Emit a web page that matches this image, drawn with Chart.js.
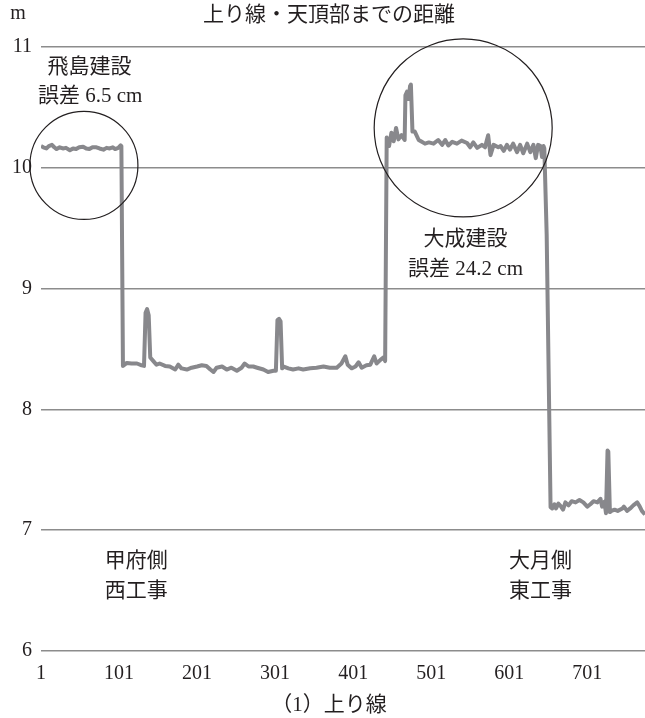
<!DOCTYPE html>
<html>
<head>
<meta charset="utf-8">
<script src="https://cdn.jsdelivr.net/npm/chart.js@4.4.0/dist/chart.umd.min.js"></script>
<style>
html, body { margin: 0; padding: 0; background: #fff; }
#wrap { width: 645px; height: 718px; }
</style>
</head>
<body>
<div id="wrap"><canvas id="distChart" width="645" height="718"></canvas></div>
<script>
const pointIndex = [
  1, 4, 8, 11, 15, 18, 21, 25, 29, 33, 38, 42, 46, 50, 55, 59, 63, 67, 72, 76, 81, 85, 89, 93, 96, 100, 103, 104,
  106, 111, 117, 124, 130, 133, 135, 137, 139, 141, 145, 149, 153, 160, 166, 173, 177, 181, 188, 194, 201, 207,
  213, 218, 222, 226, 233, 239, 245, 252, 258, 262, 267, 273, 278, 286, 292, 299, 302, 304, 306, 308, 310, 312,
  318, 324, 331, 337, 346, 354, 363, 371, 380, 386, 391, 394, 399, 404, 408, 412, 418, 423, 428, 431, 436, 440, 442,
  444, 447, 450, 453, 456, 459, 463, 467, 468, 470, 472, 474, 475, 477, 480, 485, 489, 493, 498, 504, 510, 515,
  519, 523, 528, 534, 540, 547, 551, 555, 560, 566, 570, 574, 577, 581, 587, 590, 594, 598, 602, 606, 611, 615,
  619, 624, 628, 632, 635, 638, 641, 643, 645, 646,
  649, 654,
  656, 659, 661, 664, 667, 670, 673, 677, 681, 686, 691, 696, 701, 705, 709, 714, 718, 720, 723, 725, 727, 728,
  730, 732, 736, 740, 746, 748, 752, 756, 760, 765, 768, 771, 775
];
// distance to the crown (m)
const distance = [
  10.18, 10.17, 10.16, 10.18, 10.19, 10.17, 10.155, 10.17, 10.16, 10.165, 10.145, 10.16, 10.155, 10.17, 10.175, 10.16, 10.155, 10.17, 10.17, 10.16, 10.15, 10.165, 10.16, 10.17, 10.155, 10.165, 10.185, 10.18,
  8.36, 8.385, 8.38, 8.38, 8.365, 8.36, 8.80, 8.83, 8.78, 8.43, 8.40, 8.37, 8.38, 8.36, 8.355, 8.33, 8.37, 8.34, 8.33, 8.345, 8.355, 8.365,
  8.36, 8.33, 8.31, 8.345, 8.355, 8.33, 8.345, 8.32, 8.345, 8.38, 8.355, 8.355, 8.345, 8.33, 8.31, 8.32, 8.32, 8.74, 8.75, 8.73, 8.34, 8.355,
  8.34, 8.33, 8.34, 8.33, 8.34, 8.345, 8.355, 8.345, 8.345, 8.38, 8.44, 8.37, 8.34, 8.355, 8.39, 8.345, 8.365, 8.37, 8.44, 8.38, 8.41, 8.43, 8.40,
  10.25, 10.18, 10.29, 10.22, 10.33, 10.235, 10.27, 10.23, 10.60, 10.63, 10.57, 10.68, 10.69, 10.30, 10.30, 10.23, 10.215, 10.20, 10.21, 10.20, 10.23, 10.19,
  10.23, 10.185, 10.215, 10.20, 10.225, 10.205, 10.17, 10.21, 10.165, 10.19, 10.17, 10.27, 10.105, 10.19, 10.17, 10.18, 10.14, 10.19, 10.15, 10.20, 10.13, 10.19,
  10.12, 10.20, 10.13, 10.19, 10.08, 10.19, 10.18, 10.09, 10.18, 10.16,
  9.45, 7.19,
  7.18, 7.215, 7.18, 7.22, 7.20, 7.17, 7.23, 7.205, 7.24, 7.23, 7.25, 7.23, 7.195, 7.215, 7.24, 7.23, 7.26, 7.195, 7.235, 7.14, 7.66, 7.65,
  7.15, 7.16, 7.17, 7.16, 7.18, 7.195, 7.16, 7.18, 7.205, 7.23, 7.20, 7.16, 7.13
];
const xTicks = [1, 101, 201, 301, 401, 501, 601, 701];
const yTicks = [6, 7, 8, 9, 10, 11];

// notes: [text, index, value]
const notes = [
  ['飛島建設', 63, 10.83],
  ['誤差 6.5 cm', 64, 10.59],
  ['大成建設', 545, 9.405],
  ['誤差 24.2 cm', 545, 9.155],
  ['甲府側', 123, 6.745],
  ['西工事', 123, 6.49],
  ['大月側', 641, 6.745],
  ['東工事', 641, 6.49]
];
// circled areas: [index, value]
const rings = [[56, 10.02], [542, 10.33]];

const textFont = '21px "Liberation Serif", "Noto Sans CJK JP"';
const ink = '#231f20';

const notePlugin = {
  id: 'notes',
  afterDatasetsDraw(chart) {
    const { ctx, scales: { x, y } } = chart;
    ctx.save();
    ctx.strokeStyle = ink;
    ctx.lineWidth = 1.2;
    const radius = [54, 89];
    rings.forEach((r, k) => {
      ctx.beginPath();
      ctx.arc(x.getPixelForValue(r[0]), y.getPixelForValue(r[1]), radius[k], 0, Math.PI * 2);
      ctx.stroke();
    });
    ctx.fillStyle = ink;
    ctx.font = textFont;
    ctx.textAlign = 'center';
    ctx.textBaseline = 'middle';
    notes.forEach(n => {
      ctx.fillText(n[0], x.getPixelForValue(n[1]), y.getPixelForValue(n[2]));
    });
    // headings
    ctx.fillText('上り線・天頂部までの距離', 329, 15);
    ctx.fillText('（1）上り線', 329, 705);
    ctx.font = '20px "Liberation Serif"';
    ctx.fillText('m', 18, 14);
    ctx.restore();
  }
};

new Chart(document.getElementById('distChart'), {
  type: 'line',
  data: {
    datasets: [{
      data: pointIndex.map((v, k) => ({ x: v, y: distance[k] })),
      borderColor: 'rgb(136,136,140)',
      borderWidth: 4,
      borderJoinStyle: 'round',
      pointRadius: 0,
      tension: 0,
      fill: false
    }]
  },
  options: {
    responsive: false,
    devicePixelRatio: 1,
    animation: false,
    layout: { padding: { top: 47, right: 0, bottom: 0, left: 0 } },
    plugins: { legend: { display: false }, tooltip: { enabled: false }, title: { display: false } },
    scales: {
      x: {
        type: 'linear',
        min: 1,
        max: 775,
        afterBuildTicks: axis => { axis.ticks = xTicks.map(v => ({ value: v })); },
        afterFit: axis => { axis.height = 67; },
        grid: { display: false },
        border: { display: false },
        ticks: {
          autoSkip: false,
          maxRotation: 0,
          padding: 3,
          color: ink,
          font: { family: 'Liberation Serif', size: 20 },
          callback: v => String(v)
        }
      },
      y: {
        min: 6,
        max: 11,
        afterBuildTicks: axis => { axis.ticks = yTicks.map(v => ({ value: v })); },
        afterFit: axis => { axis.width = 41; },
        grid: { color: '#8c8c8c', lineWidth: 1.5, drawTicks: false },
        border: { display: false },
        ticks: {
          padding: 9,
          color: ink,
          font: { family: 'Liberation Serif', size: 20 },
          callback: v => String(v)
        }
      }
    }
  },
  plugins: [notePlugin]
});
</script>
</body>
</html>
